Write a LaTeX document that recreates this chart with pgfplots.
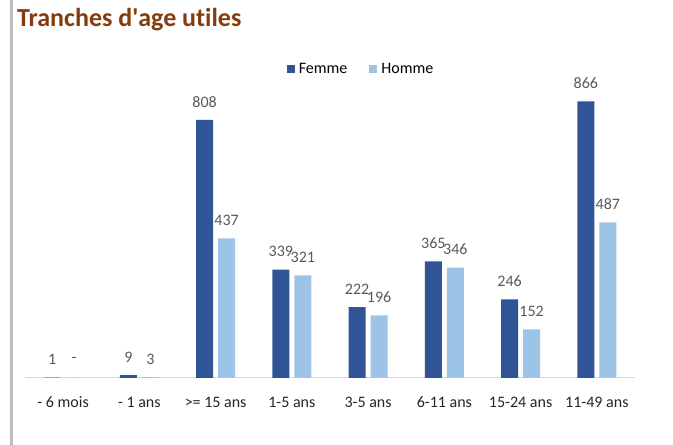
\documentclass[border=0pt]{standalone}
\usepackage{pgfplots}
\pgfplotsset{compat=1.18}
\usepackage{fontspec}
\setmainfont{Carlito}[Ligatures={NoCommon}]

\definecolor{femme}{HTML}{2F5597}
\definecolor{homme}{HTML}{9DC3E6}
\definecolor{titre}{HTML}{843C0C}
\definecolor{ligne}{HTML}{D9D9D9}

\begin{document}
\begin{tikzpicture}
    \useasboundingbox (0pt,0pt) rectangle (673pt,445pt);
    % bande grise a gauche
    \fill[black!25] (10pt,0pt) rectangle (13pt,445pt);
    \node[anchor=base west, inner sep=0, font=\fontsize{26}{30}\selectfont\bfseries, text=titre]
        at (17pt,418pt) {Tranches d\textquotesingle age utiles};

    \begin{axis}[
        at={(25pt,67pt)}, anchor=south west,
        scale only axis,
        width=610pt, height=320pt,
        ybar=5pt,
        bar width=17pt,
        xmin=-0.5, xmax=7.5,
        ymin=0, ymax=1002,
        xtick=data,
        xticklabels={- 6 mois, - 1 ans, >= 15 ans, 1-5 ans, 3-5 ans, 6-11 ans, 15-24 ans, 11-49 ans},
        x tick label style={font=\fontsize{16}{18}\selectfont, text=black!85,
            anchor=base, yshift=-30pt},
        major tick length=0pt,
        ytick=\empty,
        axis y line=none,
        axis x line*=bottom,
        x axis line style={ligne, line width=1pt, -},
        legend style={
            at={(axis description cs:0.551,0.966)}, anchor=center,
            draw=none, fill=none,
            font=\fontsize{16}{18}\selectfont,
            legend columns=2,
            /tikz/every even column/.append style={column sep=20pt},
        },
        legend image code/.code={\fill[#1] (0pt,-4pt) rectangle (8pt,4pt); \path (10pt,0pt);},
        nodes near coords,
        point meta=explicit symbolic,
        every node near coord/.append style={
            font=\fontsize{16}{18}\selectfont, text=black!65,
            anchor=center, yshift=18pt
        },
    ]

    % --- Femme ---
    \addplot[fill=femme, draw=none] coordinates {
        (0, 1) [1]
        (1, 9) [9]
        (2, 808) [808]
        (3, 339) [339]
        (4, 222) [222]
        (5, 365) [365]
        (6, 246) [246]
        (7, 866) [866]
    };

    % --- Homme ---
    \addplot[fill=homme, draw=none] coordinates {
        (0, 0) [-]
        (1, 3) [3]
        (2, 437) [437]
        (3, 321) [321]
        (4, 196) [196]
        (5, 346) [346]
        (6, 152) [152]
        (7, 487) [487]
    };

    \legend{Femme, Homme}
    \end{axis}
\end{tikzpicture}
\end{document}
